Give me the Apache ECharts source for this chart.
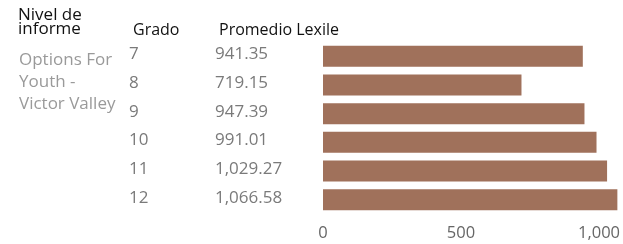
<!DOCTYPE html>
<html lang="es">
<head>
    <meta charset="UTF-8">
    <script src="https://cdn.jsdelivr.net/npm/echarts@6.0.0/dist/echarts.min.js"></script>
    <title>Promedio Lexile</title>
    <style>
        html, body { margin: 0; padding: 0; background: #fff; }
    </style>
</head>
<body>
    <div id="main" style="width: 623px;height:244px;"></div>
    <script type="text/javascript">
      var grades = ['7', '8', '9', '10', '11', '12'];
      var lexile = [941.35, 719.15, 947.39, 991.01, 1029.27, 1066.58];
      var xTicks = [0, 500, 1000];
      var reportLevel = 'Options For\nYouth -\nVictor Valley';

      var fontName = '"Open Sans", "Noto Sans", sans-serif';

      function fmt(v) {
        return v.toLocaleString('en-US', { minimumFractionDigits: 2, maximumFractionDigits: 2 });
      }

      var myChart = echarts.init(document.getElementById('main'));

      var option = {
        animation: false,
        textStyle: { fontFamily: fontName },
        title: [
          { text: 'Nivel de\ninforme', left: 13, top: 3,
            textStyle: { fontSize: 17, fontWeight: 'normal', color: '#111', lineHeight: 14, fontFamily: fontName } },
          { text: 'Grado', left: 128, top: 17,
            textStyle: { fontSize: 16, fontWeight: 'normal', color: '#111', fontFamily: fontName } },
          { text: 'Promedio Lexile', left: 214, top: 17,
            textStyle: { fontSize: 16, fontWeight: 'normal', color: '#111', fontFamily: fontName } },
          { text: reportLevel, left: 14, top: 44,
            textStyle: { fontSize: 17, fontWeight: 'normal', color: '#9a9a9a', lineHeight: 22, fontFamily: fontName } }
        ],
        grid: { left: 323, right: 0, top: 42, bottom: 30, containLabel: false },
        xAxis: {
          type: 'value',
          min: 0,
          max: 1080,
          interval: 500,
          axisLine: { show: false },
          axisTick: { show: false },
          splitLine: { show: false },
          axisLabel: {
            color: '#666',
            fontSize: 16.5,
            margin: 11,
            showMaxLabel: false,
            formatter: function (v) {
              return xTicks.indexOf(v) >= 0 ? v.toLocaleString('en-US') : '';
            }
          }
        },
        yAxis: {
          type: 'category',
          inverse: true,
          data: grades,
          axisLine: { show: false },
          axisTick: { show: false },
          axisLabel: {
            align: 'left',
            margin: 194,
            formatter: function (value, index) {
              return '{g|' + value + '}{v|' + fmt(lexile[index]) + '}';
            },
            rich: {
              g: { width: 86, fontSize: 17, color: '#7a7a7a', fontFamily: fontName, padding: [0, 0, 4, 0] },
              v: { fontSize: 17, color: '#7a7a7a', fontFamily: fontName, padding: [0, 0, 4, 0] }
            }
          }
        },
        series: [
          {
            name: 'Promedio Lexile',
            type: 'bar',
            data: lexile,
            barCategoryGap: '27%',
            itemStyle: { color: '#a0715b' }
          }
        ]
      };

      myChart.setOption(option);
    </script>
</body>
</html>
